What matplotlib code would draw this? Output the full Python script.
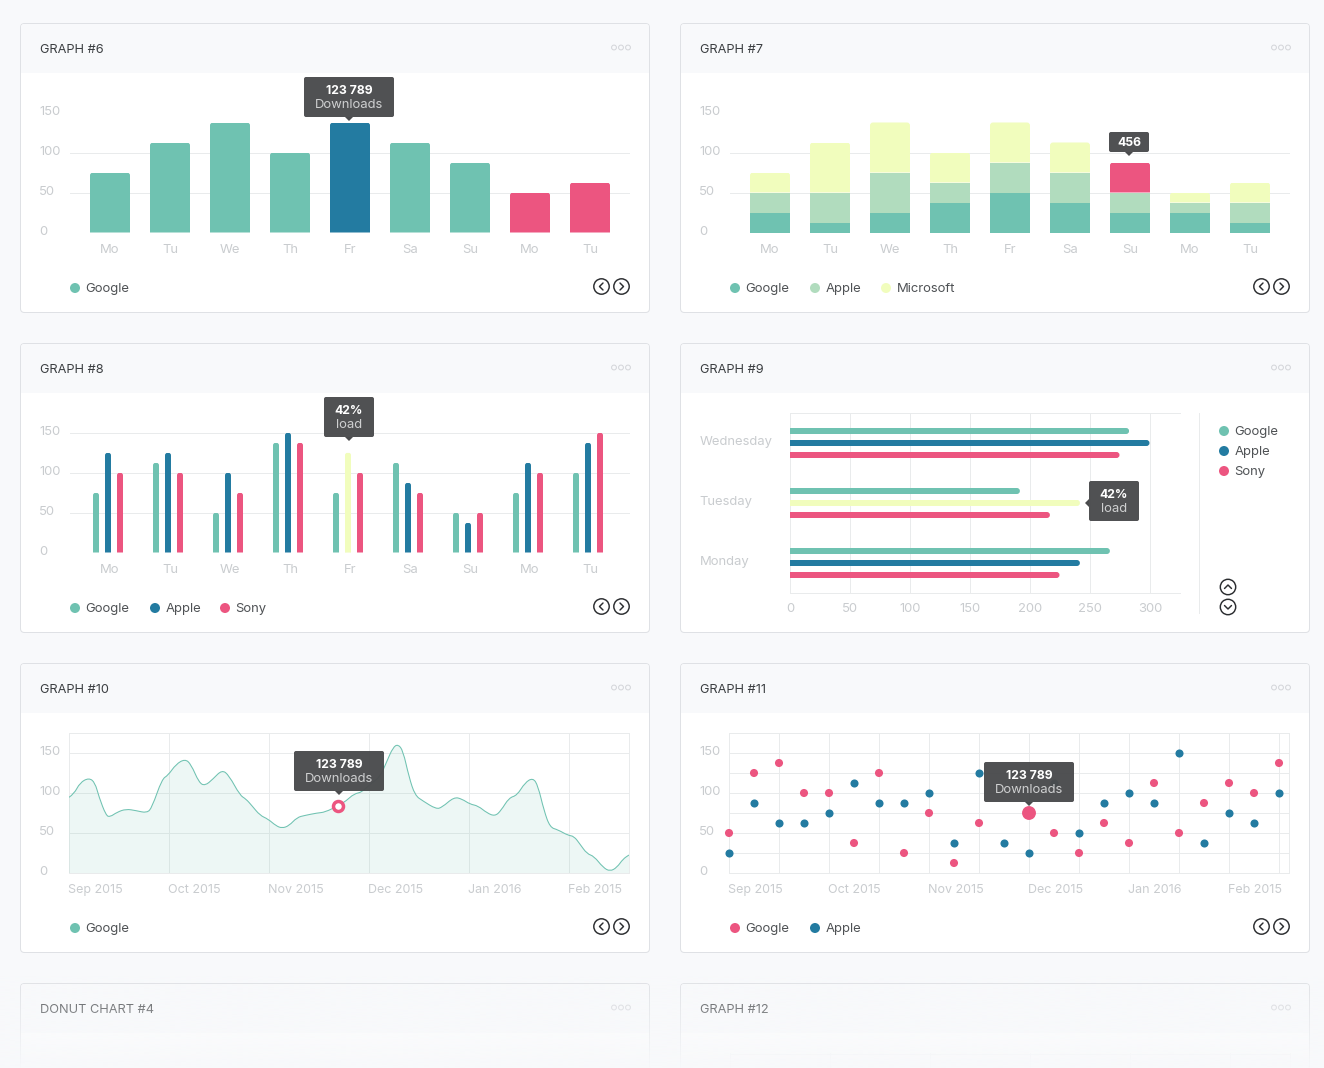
"""
Dashboard cards, graphs #6 to #11 plus the faded top of the next row.
Chrome and tooltips are drawn in a pixel-sized overlay, charts in their own axes.
"""
import numpy as np
import matplotlib
matplotlib.use("Agg")
import matplotlib.pyplot as plt
from matplotlib.patches import Circle, FancyBboxPatch, Polygon, Rectangle, PathPatch
from matplotlib.path import Path
from matplotlib.transforms import ScaledTranslation

plt.rcParams["font.family"] = ["Inter", "DejaVu Sans"]

TEAL = "#6fc2b1"
BLUE = "#237ba1"
PINK = "#ec5580"
YELLOW = "#f1fdbd"
MINT = "#b1dcbe"
BG = "#f8f9fb"
GRID = "#e9ebec"
TICK = "#c9cccf"
TITLE = "#3c3f42"
LEGEND = "#4f5255"
TIP = "#4a4b4d"
PX = 0.72  # one pixel in points

W, H = 1324, 1068

days = ["Mo", "Tu", "We", "Th", "Fr", "Sa", "Su", "Mo", "Tu"]
y_ticks = [0, 50, 100, 150]

# graph 6
g6_values = [75, 112.5, 137.5, 100, 137.5, 112.5, 87.5, 50, 62.5]
g6_colors = [TEAL, TEAL, TEAL, TEAL, BLUE, TEAL, TEAL, PINK, PINK]

# graph 7, stacked
g7_google = [25, 12.5, 25, 37.5, 50, 37.5, 25, 25, 12.5]
g7_apple = [25, 37.5, 50, 25, 37.5, 37.5, 25, 12.5, 25]
g7_microsoft = [25, 62.5, 62.5, 37.5, 50, 37.5, 37.5, 12.5, 25]
g7_top_colors = [YELLOW, YELLOW, YELLOW, YELLOW, YELLOW, YELLOW, PINK, YELLOW, YELLOW]

# graph 8
g8_google = [75, 112.5, 50, 137.5, 75, 112.5, 50, 75, 100]
g8_apple = [125, 125, 100, 150, 125, 87.5, 37.5, 112.5, 137.5]
g8_sony = [100, 100, 75, 137.5, 100, 75, 50, 100, 150]

# graph 9
g9_days = ["Monday", "Tuesday", "Wednesday"]
g9_google = [267, 192, 283]
g9_apple = [242, 242, 300]
g9_sony = [225, 217, 275]
g9_ticks = [0, 50, 100, 150, 200, 250, 300]

# graph 10, x is months after the start of Sep 2015
months = ["Sep 2015", "Oct 2015", "Nov 2015", "Dec 2015", "Jan 2016", "Feb 2015"]
g10_x = [0.00, 0.05, 0.11, 0.20, 0.26, 0.30, 0.37, 0.41, 0.48, 0.57, 0.67, 0.78, 0.83,
         0.93, 0.99, 1.07, 1.16, 1.22, 1.30, 1.36, 1.44, 1.53, 1.60, 1.71, 1.77, 1.83,
         1.91, 1.99, 2.07, 2.13, 2.20, 2.28, 2.36, 2.48, 2.56, 2.69, 2.77, 2.85, 2.93,
         3.01, 3.11, 3.18, 3.24, 3.29, 3.34, 3.40, 3.46, 3.54, 3.67, 3.73, 3.85, 3.93,
         4.01, 4.09, 4.18, 4.26, 4.32, 4.40, 4.48, 4.56, 4.64, 4.69, 4.75, 4.81, 4.89,
         4.99, 5.05, 5.11, 5.18, 5.25, 5.34, 5.41, 5.48, 5.54, 5.60]
g10_y = [94.6, 98.8, 113, 119, 113, 95, 72, 70, 76, 80, 78, 75, 82,
         117.5, 122, 136, 142.5, 136, 113, 109, 117.5, 129, 122, 97, 92.5, 84,
         72, 67.5, 59, 56, 59, 69.5, 72, 75, 76, 84, 90, 99, 101,
         111, 120, 140, 157, 161, 153, 120, 97, 90, 80, 82, 95, 92.5,
         86, 84, 75, 71, 78, 94, 97, 113, 119, 109, 78, 57, 54,
         47, 46, 36, 24, 21, 7, 2, 7, 17.5, 22.5]
g10_hover = (2.69, 84)

# graph 11, one sample per quarter month
g11_x = [i * 0.25 for i in range(23)]
g11_google = [50, 125, 137.5, 100, 100, 37.5, 125, 25, 75, 12.5, 62.5, None,
              75, 50, 25, 62.5, 37.5, 112.5, 50, 87.5, 112.5, 100, 137.5]
g11_apple = [25, 87.5, 62.5, 62.5, 75, 112.5, 87.5, 87.5, 100, 37.5, 125, 37.5,
             25, 112.5, 50, 87.5, 100, 87.5, 150, 37.5, 75, 62.5, 100]


def chart_axes(fig, x0, x1, y_top, y_bottom):
    ax = fig.add_axes([x0 / W, 1 - y_bottom / H, (x1 - x0) / W, (y_bottom - y_top) / H], zorder=2)
    ax.patch.set_alpha(0)
    for s in ax.spines.values():
        s.set_visible(False)
    ax.tick_params(length=0, labelsize=9.4, labelcolor=TICK)
    ax.set_axisbelow(True)
    return ax


def nudge(labels, dx, dy):
    # shift tick labels by a few pixels, y up
    for t in labels:
        t.set_transform(t.get_transform() + ScaledTranslation(dx / 100, dy / 100, fig.dpi_scale_trans))


def style_y(ax, pad=21.6):
    ax.set_ylim(0, 150)
    ax.set_yticks(y_ticks)
    ax.tick_params(axis="y", pad=pad)
    for t in ax.get_yticklabels():
        t.set_ha("left")
    ax.grid(axis="y", color=GRID, lw=PX)
    ax.grid(axis="x", visible=False)
    nudge(ax.get_yticklabels(), -1, 2)


def bar_axes(fig, left, y0, xlim, ticks=None):
    # 0.8 px per unit, base line at y0 + 232.5
    ax = chart_axes(fig, left + 70, left + 630, y0 + 112.5, y0 + 232.5)
    ax.set_xlim(*xlim)
    ax.set_xticks(range(len(days)) if ticks is None else ticks)
    ax.set_xticklabels(days)
    ax.tick_params(axis="x", pad=8.5)
    style_y(ax)
    return ax


def round_top(ax, rect, r_px):
    # clip the bar so its two upper corners are round
    fig_w = ax.get_position().width * W
    fig_h = ax.get_position().height * H
    rx = r_px * (ax.get_xlim()[1] - ax.get_xlim()[0]) / fig_w
    ry = r_px * (ax.get_ylim()[1] - ax.get_ylim()[0]) / fig_h
    x0, y0 = rect.get_x(), rect.get_y()
    x1, y1 = x0 + rect.get_width(), y0 + rect.get_height()
    verts = [(x0, y0), (x0, y1 - ry), (x0, y1), (x0 + rx, y1), (x1 - rx, y1), (x1, y1),
             (x1, y1 - ry), (x1, y0), (x0, y0)]
    codes = [Path.MOVETO, Path.LINETO, Path.CURVE3, Path.CURVE3, Path.LINETO, Path.CURVE3,
             Path.CURVE3, Path.LINETO, Path.CLOSEPOLY]
    rect.set_clip_path(Path(verts, codes), ax.transData)


def round_right(ax, rect, r_px):
    fig_w = ax.get_position().width * W
    rx = r_px * (ax.get_xlim()[1] - ax.get_xlim()[0]) / fig_w
    x0, y0 = rect.get_x(), rect.get_y()
    x1, y1 = x0 + rect.get_width(), y0 + rect.get_height()
    ym = (y0 + y1) / 2
    verts = [(x0, y0), (x1 - rx, y0), (x1, y0), (x1, ym), (x1, y1), (x1 - rx, y1), (x0, y1), (x0, y0)]
    codes = [Path.MOVETO, Path.LINETO, Path.CURVE3, Path.CURVE3, Path.CURVE3, Path.CURVE3,
             Path.LINETO, Path.CLOSEPOLY]
    rect.set_clip_path(Path(verts, codes), ax.transData)


def card(ov, left, top, title, bottom=None):
    bottom = bottom if bottom is not None else top + 290
    ov.add_patch(FancyBboxPatch((left + 0.5, top + 0.5), 629, bottom - top - 1,
                                boxstyle="round,pad=0,rounding_size=4", fc="white",
                                ec="#dfe1e5", lw=PX, zorder=1))
    ov.add_patch(FancyBboxPatch((left + 1, top + 1), 628, 49,
                                boxstyle="round,pad=0,rounding_size=3", fc=BG, ec="none", zorder=1.1))
    ov.add_patch(Rectangle((left + 1, top + 20), 628, 30, fc=BG, ec="none", zorder=1.1))
    ov.text(left + 20, top + 27, title, fontsize=9.2, color=TITLE, va="center", ha="left", zorder=1.3)
    for dx in (594, 601, 608):
        ov.add_patch(Circle((left + dx, top + 24.5), 2.4, fc="none", ec="#d3d5d9", lw=PX, zorder=1.3))


def icon(ov, cx, cy, direction):
    ov.add_patch(Circle((cx, cy), 7.7, fc="none", ec="#2b2d30", lw=1.05, zorder=5))
    d = {"left": [(1.5, -3.5), (-2, 0), (1.5, 3.5)], "right": [(-1.5, -3.5), (2, 0), (-1.5, 3.5)],
         "up": [(-3.5, 1.5), (0, -2), (3.5, 1.5)], "down": [(-3.5, -1.5), (0, 2), (3.5, -1.5)]}[direction]
    ov.plot([cx + p[0] for p in d], [cy + p[1] for p in d], color="#2b2d30", lw=1.05,
            zorder=5, solid_capstyle="round", solid_joinstyle="round")


def nav(ov, left, top):
    icon(ov, left + 581.5, top + 263.5, "left")
    icon(ov, left + 601.5, top + 263.5, "right")


def legend_item(ov, x, y, label, color):
    ov.add_patch(Circle((x, y), 5, fc=color, ec="none", zorder=5))
    ov.text(x + 10.5, y + 1, label, fontsize=9.4, color=LEGEND, va="center", ha="left", zorder=5)


def tooltip(ov, x0, x1, y0, y1, lines, side="bottom"):
    ov.add_patch(FancyBboxPatch((x0, y0), x1 - x0, y1 - y0,
                                boxstyle="round,pad=0,rounding_size=2", fc=TIP, ec="none",
                                alpha=0.97, zorder=8))
    cx, cy = (x0 + x1) / 2, (y0 + y1) / 2
    if side == "bottom":
        tri = [(cx - 4, y1), (cx + 4, y1), (cx, y1 + 4)]
    else:
        tri = [(x0, cy - 4 + 2), (x0, cy + 4 + 2), (x0 - 4, cy + 2)]
    ov.add_patch(Polygon(tri, fc=TIP, ec="none", zorder=8))
    if len(lines) == 1:
        ov.text(cx, cy + 0.5, lines[0], color="white", fontsize=8.8, fontweight="bold",
                ha="center", va="center", zorder=9)
    else:
        ov.text(cx, cy - 6, lines[0], color="white", fontsize=8.8, fontweight="bold",
                ha="center", va="center", zorder=9)
        ov.text(cx, cy + 8, lines[1], color="#cfd0d1", fontsize=9.4,
                ha="center", va="center", zorder=9)


def smooth_path(xs, ys):
    # quadratic curve through the midpoints of the read-off points
    verts = [(xs[0], ys[0])]
    codes = [Path.MOVETO]
    for i in range(1, len(xs) - 1):
        verts += [(xs[i], ys[i]), ((xs[i] + xs[i + 1]) / 2, (ys[i] + ys[i + 1]) / 2)]
        codes += [Path.CURVE3, Path.CURVE3]
    verts.append((xs[-1], ys[-1]))
    codes.append(Path.LINETO)
    return verts, codes


def month_axes(fig, left):
    ax = chart_axes(fig, left + 69, left + 629, 733, 873)
    ax.set_ylim(0, 175)
    ax.set_xlim(0, 5.6)
    ax.set_yticks(y_ticks)
    ax.tick_params(axis="y", pad=20.9)
    for t in ax.get_yticklabels():
        t.set_ha("left")
    ax.set_xticks(range(6))
    ax.set_xticklabels(months, ha="left", fontsize=9.0)
    ax.tick_params(axis="x", pad=8.5)
    for s in ax.spines.values():
        s.set_visible(True)
        s.set_color(GRID)
        s.set_linewidth(PX)
    ax.grid(axis="y", color=GRID, lw=PX)
    ax.grid(axis="x", color=GRID, lw=PX)
    nudge(ax.get_yticklabels(), -1, 2.5)
    nudge(ax.get_xticklabels(), -1.5, 1)
    return ax


fig = plt.figure(figsize=(W / 100, H / 100), dpi=100, facecolor=BG)

base = fig.add_axes([0, 0, 1, 1], zorder=0)
base.set_xlim(0, W)
base.set_ylim(H, 0)
base.axis("off")
over = fig.add_axes([0, 0, 1, 1], zorder=5)
over.set_xlim(0, W)
over.set_ylim(H, 0)
over.axis("off")
over.patch.set_alpha(0)

card(base, 20, 23, "GRAPH #6")
card(base, 680, 23, "GRAPH #7")
card(base, 20, 343, "GRAPH #8")
card(base, 680, 343, "GRAPH #9")
card(base, 20, 663, "GRAPH #10")
card(base, 680, 663, "GRAPH #11")
card(base, 20, 983, "DONUT CHART #4", bottom=1273)
card(base, 680, 983, "GRAPH #12", bottom=1273)

# graph 6
ax = bar_axes(fig, 0, 0, (-2 / 3, 26 / 3))
bars = ax.bar(range(9), g6_values, width=2 / 3, color=g6_colors, zorder=3)
for b in bars:
    round_top(ax, b, 3)
tooltip(over, 304, 394, 77, 117, ["123 789", "Downloads"])
legend_item(over, 75, 288, "Google", TEAL)
nav(base, 20, 23)

# graph 7
ax = bar_axes(fig, 660, 0, (-2 / 3, 26 / 3))
bottom = np.zeros(9)
ax.bar(range(9), g7_google, width=2 / 3, color=TEAL, zorder=3)
bottom += g7_google
ax.bar(range(9), g7_apple, width=2 / 3, bottom=bottom, color=MINT, zorder=3)
bottom += g7_apple
bars = ax.bar(range(9), g7_microsoft, width=2 / 3, bottom=bottom, color=g7_top_colors, zorder=3)
for b in bars:
    round_top(ax, b, 3)
tooltip(over, 1109, 1149, 132, 152, ["456"])
legend_item(over, 735, 288, "Google", TEAL)
legend_item(over, 815, 288, "Apple", MINT)
legend_item(over, 886, 288, "Microsoft", YELLOW)
nav(base, 680, 23)

# graph 8
pos = np.arange(9)
ax = bar_axes(fig, 0, 320, (-38 / 60, 522 / 60), ticks=pos + 2 / 60)
for offset, vals, col in [(-0.2, g8_google, TEAL), (0, g8_apple, BLUE), (0.2, g8_sony, PINK)]:
    bars = ax.bar(pos + offset, vals, width=0.1, color=col, zorder=3)
    for b in bars:
        round_top(ax, b, 3)
    if col == BLUE:
        bars[4].set_color(YELLOW)
tooltip(over, 324, 374, 397, 437, ["42%", "load"])
legend_item(over, 75, 608, "Google", TEAL)
legend_item(over, 155, 608, "Apple", BLUE)
legend_item(over, 225, 608, "Sony", PINK)
nav(base, 20, 343)

# graph 9
ax = chart_axes(fig, 789.5, 1179.5, 412.5, 592.5)
ax.set_xlim(0, 325)
ax.set_ylim(-29.5 / 60, 150.5 / 60)
ax.set_xticks(g9_ticks)
ax.set_yticks(range(3))
ax.set_yticklabels(g9_days)
ax.tick_params(axis="y", pad=64.6)
ax.tick_params(axis="x", pad=8.5)
for t in ax.get_yticklabels():
    t.set_ha("left")
nudge(ax.get_yticklabels(), 0, 2)
nudge(ax.get_xticklabels(), 0.5, 1)
ax.grid(axis="x", color=GRID, lw=PX)
for side in ("left", "top", "bottom"):
    ax.spines[side].set_visible(True)
    ax.spines[side].set_color(GRID)
    ax.spines[side].set_linewidth(PX)
ypos = np.arange(3)
for offset, vals, col in [(0.2, g9_google, TEAL), (0, g9_apple, BLUE), (-0.2, g9_sony, PINK)]:
    bars = ax.barh(ypos + offset, vals, height=0.1, color=col, zorder=3)
    for b in bars:
        round_right(ax, b, 3)
    if col == BLUE:
        bars[1].set_color(YELLOW)
tooltip(over, 1089, 1139, 481, 521, ["42%", "load"], side="left")
base.plot([1199, 1199], [413, 613], color=GRID, lw=PX, zorder=2)
legend_item(over, 1224, 431, "Google", TEAL)
legend_item(over, 1224, 451, "Apple", BLUE)
legend_item(over, 1224, 471, "Sony", PINK)
icon(base, 1228, 587, "up")
icon(base, 1228, 607, "down")

# graph 10
ax = month_axes(fig, 0)
verts, codes = smooth_path(g10_x, g10_y)
line_path = Path(verts, codes)
fill_path = Path(verts + [(g10_x[-1], 0), (g10_x[0], 0), (g10_x[0], 0)],
                 codes + [Path.LINETO, Path.LINETO, Path.CLOSEPOLY])
ax.add_patch(PathPatch(fill_path, fc=TEAL, alpha=0.12, ec="none", zorder=3))
ax.add_patch(PathPatch(line_path, fc="none", ec=TEAL, lw=0.75, zorder=4))
ax.plot([g10_hover[0]], [g10_hover[1]], "o", ms=7.2, mfc="white", mec=PINK, mew=2.5, zorder=6)
tooltip(over, 294, 384, 751, 791, ["123 789", "Downloads"])
legend_item(over, 75, 928, "Google", TEAL)
nav(base, 20, 663)

# graph 11
ax = month_axes(fig, 660)
ax.set_xticks(np.arange(0, 6, 0.5), minor=True)
ax.set_yticks([25, 75, 125], minor=True)
ax.tick_params(which="minor", length=0)
ax.grid(which="minor", color=GRID, lw=PX)
ax.scatter(g11_x, g11_apple, s=34, color=BLUE, zorder=4, clip_on=False, linewidths=0)
gx = [x for x, v in zip(g11_x, g11_google) if v is not None]
gy = [v for v in g11_google if v is not None]
sizes = [100 if (x == 3.0) else 34 for x in gx]
ax.scatter(gx, gy, s=sizes, color=PINK, zorder=4, clip_on=False, linewidths=0)
tooltip(over, 984, 1074, 762, 802, ["123 789", "Downloads"])
legend_item(over, 735, 928, "Google", PINK)
legend_item(over, 815, 928, "Apple", BLUE)
nav(base, 680, 663)

# faded start of the next row
base.plot([730, 1290], [1053.5, 1053.5], color="#f0f1f3", lw=PX, zorder=2)
for x in (730, 830, 930, 1030, 1130, 1230, 1290):
    base.plot([x, x], [1053, 1068], color="#f0f1f3", lw=PX, zorder=2)
fade = np.zeros((256, 1, 4))
fade[..., :3] = matplotlib.colors.to_rgb(BG)
fade[:, 0, 3] = np.linspace(0, 0.97, 256)
over.imshow(fade, extent=(0, W, 1068, 975), aspect="auto", zorder=10, interpolation="bilinear")
over.set_xlim(0, W)
over.set_ylim(H, 0)

fig.savefig("out.png", dpi=100, facecolor=BG)
